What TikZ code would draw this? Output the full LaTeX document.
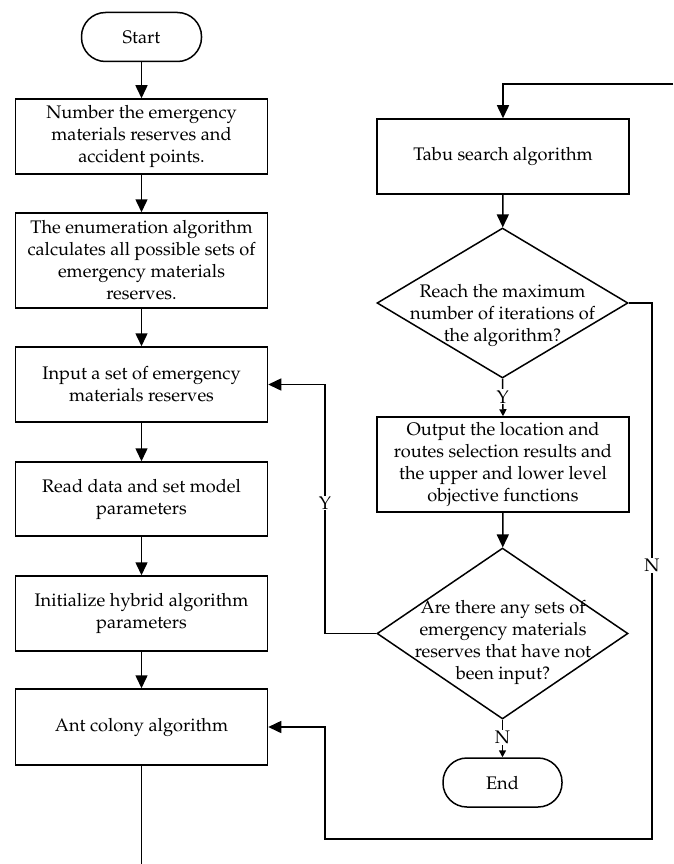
\documentclass[tikz,border=0pt]{standalone}
\usepackage[T1]{fontenc}
\usepackage{mathpazo}
\usetikzlibrary{arrows.meta,shapes.geometric}
\newcommand{\fcfont}{\fontsize{18.2}{22}\selectfont}
\tikzset{
  every path/.style={line width=1.5pt},
  boxnode/.style={draw, line width=1.5pt, minimum width=252pt, align=center, inner sep=0pt, font=\fcfont},
  termnode/.style={draw, line width=1.5pt, rounded corners=24pt, minimum width=120pt, minimum height=49pt, font=\fcfont},
  dianode/.style={draw, diamond, line width=1.5pt, inner sep=0pt},
  diatext/.style={align=center, inner sep=0pt, font=\fcfont},
  lbl/.style={fill=white, inner sep=1pt, font=\fcfont},
  arr/.style={-{Triangle[length=13pt,width=12pt]}},
  arrs/.style={-{Triangle[length=7pt,width=7pt]}}
}
\begin{document}
\begin{tikzpicture}[x=1pt,y=-1pt]
\useasboundingbox (0,0) rectangle (673,864);
% left column
\node[termnode] (start) at (141.5,37) {Start};
\node[boxnode, minimum height=75pt] (b1) at (141.5,136.5) {Number the emergency\\materials reserves and\\accident points.};
\node[boxnode, minimum height=95pt] (b2) at (141.5,260.5) {The enumeration algorithm\\calculates all possible sets of\\emergency materials\\reserves.};
\node[boxnode, minimum height=75pt] (b3) at (141.5,384.5) {Input a set of emergency\\materials reserves};
\node[boxnode, minimum height=74pt] (b4) at (141.5,499) {Read data and set model\\parameters};
\node[boxnode, minimum height=75pt] (b5) at (141.5,613.5) {Initialize hybrid algorithm\\parameters};
\node[boxnode, minimum height=76pt] (b6) at (141.5,727) {Ant colony algorithm};
% right column
\node[boxnode, minimum height=75pt] (tabu) at (503,156.5) {Tabu search algorithm};
\node[dianode, minimum width=251pt, minimum height=150pt] (d1) at (502.5,303) {};
\node[diatext] (d1t) at (502.5,315) {Reach the maximum\\number of iterations of\\the algorithm?};
\node[boxnode, minimum height=95pt] (out) at (503,464.5) {Output the location and\\routes selection results and\\the upper and lower level\\objective functions};
\node[dianode, minimum width=251pt, minimum height=171pt] (d2) at (502.5,633.5) {};
\node[diatext] (d2t) at (503,642) {Are there any sets of\\emergency materials\\reserves that have not\\been input?};
\node[termnode, minimum width=119pt] (end) at (502.5,782.5) {End};
% coordinates
\coordinate (topin) at (673,84);
\coordinate (botout) at (141.5,864);
\coordinate (yx) at (325,633.5);
\coordinate (n1) at (652,839);
\coordinate (n2) at (325,839);
% connectors
\draw[arr] (start) -- (b1);
\draw[arr] (b1) -- (b2);
\draw[arr] (b2) -- (b3);
\draw[arr] (b3) -- (b4);
\draw[arr] (b4) -- (b5);
\draw[arr] (b5) -- (b6);
\draw (b6) -- (botout);
\draw[arr] (topin) -| (tabu.north);
\draw[arr] (tabu) -- (d1);
\draw[arrs] (d1.south) -- node[lbl, pos=0.48] (ylab1) {Y} (out.north);
\draw[arr] (out) -- (d2);
\draw[arrs] (d2.south) -- node[lbl, pos=0.48] (nlab1) {N} (end.north);
\draw[arr] (d2.west) -- (yx) |- (b3.east);
\node[lbl] (ylab2) at (325,503) {Y};
\draw[arr] (d1.east) -| (n1) -- (n2) |- (b6.east);
\node[lbl] (nlab2) at (652,565) {N};
\end{tikzpicture}
\end{document}
